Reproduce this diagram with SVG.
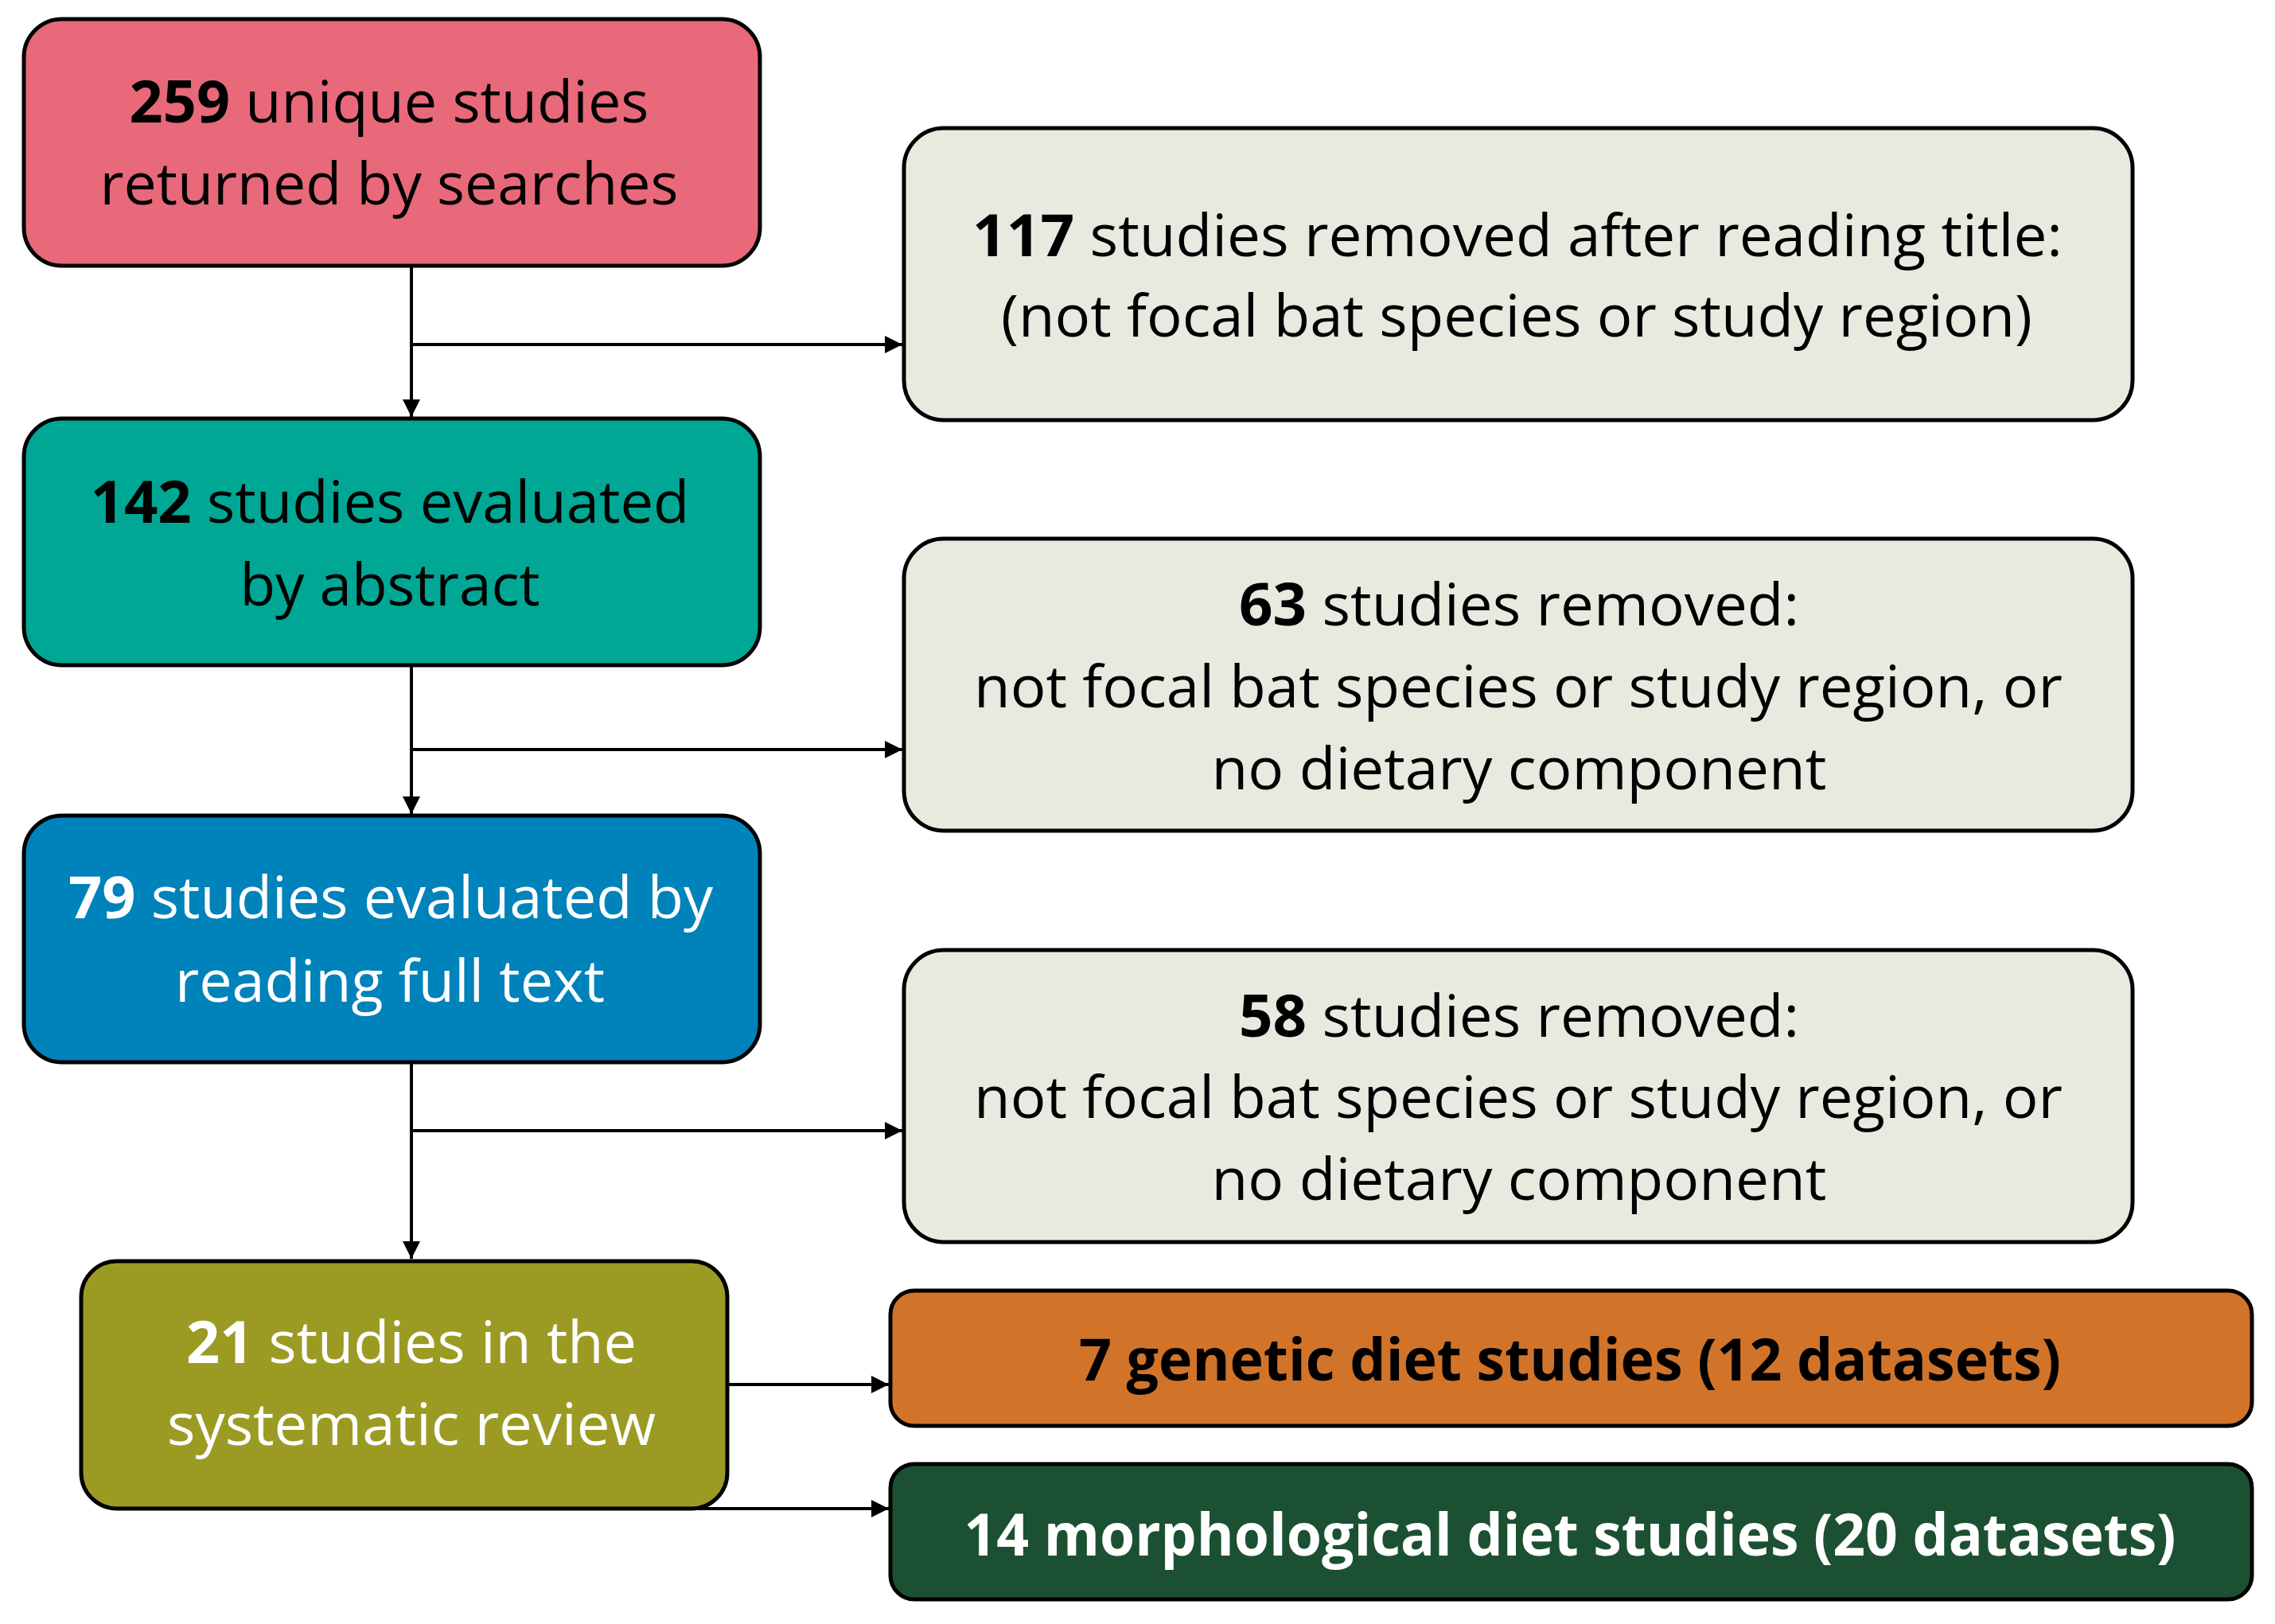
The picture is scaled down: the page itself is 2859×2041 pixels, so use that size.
<svg xmlns="http://www.w3.org/2000/svg" width="2859" height="2041" viewBox="0 0 2859 2041">
<defs>
<marker id="arr" markerUnits="userSpaceOnUse" markerWidth="24" markerHeight="24" viewBox="0 0 24 24" refX="22" refY="12" orient="auto">
<path d="M0,1 L22,12 L0,23 Z" fill="#000"/>
</marker>
<style>
.box{stroke:#000;stroke-width:5}
.t{font-family:"Open Sans","Noto Sans",sans-serif;font-size:74px;text-anchor:middle}
.b{font-weight:bold}
.w{fill:#fff}
.k{fill:#000}
.conn{stroke:#000;stroke-width:4;fill:none}
</style>
</defs>
<rect width="2859" height="2041" fill="#fff"/>
<g id="connectors">
<path class="conn" d="M517,334 V524" marker-end="url(#arr)"/>
<path class="conn" d="M517,433 H1134" marker-end="url(#arr)"/>
<path class="conn" d="M517,836 V1023" marker-end="url(#arr)"/>
<path class="conn" d="M517,942 H1134" marker-end="url(#arr)"/>
<path class="conn" d="M517,1335 V1582" marker-end="url(#arr)"/>
<path class="conn" d="M517,1421 H1134" marker-end="url(#arr)"/>
<path class="conn" d="M914,1740 H1117" marker-end="url(#arr)"/>
<path class="conn" d="M870,1896 H1117" marker-end="url(#arr)"/>
</g>
<g id="n259">
<rect class="box" x="30" y="24" width="925" height="310" rx="48" fill="#E8697A"/>
<text class="t k" x="489" y="154" textLength="653" lengthAdjust="spacingAndGlyphs"><tspan class="b">259</tspan> unique studies</text>
<text class="t k" x="489" y="257" textLength="727" lengthAdjust="spacingAndGlyphs">returned by searches</text>
</g>
<g id="n142">
<rect class="box" x="30" y="526" width="925" height="310" rx="48" fill="#00A794"/>
<text class="t k" x="490" y="657" textLength="753" lengthAdjust="spacingAndGlyphs"><tspan class="b">142</tspan> studies evaluated</text>
<text class="t k" x="490" y="761" textLength="377" lengthAdjust="spacingAndGlyphs">by abstract</text>
</g>
<g id="n79">
<rect class="box" x="30" y="1025" width="925" height="310" rx="48" fill="#0082BA"/>
<text class="t w" x="491" y="1154" textLength="810" lengthAdjust="spacingAndGlyphs"><tspan class="b">79</tspan> studies evaluated by</text>
<text class="t w" x="490" y="1259" textLength="540" lengthAdjust="spacingAndGlyphs">reading full text</text>
</g>
<g id="n21">
<rect class="box" x="102" y="1585" width="812" height="311" rx="45" fill="#9B9B24"/>
<text class="t w" x="517" y="1713" textLength="566" lengthAdjust="spacingAndGlyphs"><tspan class="b">21</tspan> studies in the</text>
<text class="t w" x="517" y="1816" textLength="614" lengthAdjust="spacingAndGlyphs">systematic review</text>
</g>
<g id="n117">
<rect class="box" x="1136" y="161" width="1544" height="367" rx="50" fill="#E8EADF"/>
<text class="t k" x="1907" y="322" textLength="1370" lengthAdjust="spacingAndGlyphs"><tspan class="b">117</tspan> studies removed after reading title:</text>
<text class="t k" x="1906" y="423" textLength="1296" lengthAdjust="spacingAndGlyphs">(not focal bat species or study region)</text>
</g>
<g id="n63">
<rect class="box" x="1136" y="677" width="1544" height="367" rx="50" fill="#E8EADF"/>
<text class="t k" x="1909" y="786" textLength="704" lengthAdjust="spacingAndGlyphs"><tspan class="b">63</tspan> studies removed:</text>
<text class="t k" x="1908" y="889" textLength="1368" lengthAdjust="spacingAndGlyphs">not focal bat species or study region, or</text>
<text class="t k" x="1909" y="992" textLength="773" lengthAdjust="spacingAndGlyphs">no dietary component</text>
</g>
<g id="n58">
<rect class="box" x="1136" y="1194" width="1544" height="367" rx="50" fill="#E8EADF"/>
<text class="t k" x="1909" y="1303" textLength="704" lengthAdjust="spacingAndGlyphs"><tspan class="b">58</tspan> studies removed:</text>
<text class="t k" x="1908" y="1405" textLength="1368" lengthAdjust="spacingAndGlyphs">not focal bat species or study region, or</text>
<text class="t k" x="1909" y="1508" textLength="773" lengthAdjust="spacingAndGlyphs">no dietary component</text>
</g>
<g id="ngenetic">
<rect class="box" x="1119" y="1622" width="1711" height="170" rx="30" fill="#D1742A"/>
<text class="t k b" x="1973" y="1735" textLength="1234" lengthAdjust="spacingAndGlyphs">7 genetic diet studies (12 datasets)</text>
</g>
<g id="nmorph">
<rect class="box" x="1119" y="1840" width="1711" height="170" rx="30" fill="#1C5032"/>
<text class="t w b" x="1973" y="1955" textLength="1523" lengthAdjust="spacingAndGlyphs">14 morphological diet studies (20 datasets)</text>
</g>
</svg>
